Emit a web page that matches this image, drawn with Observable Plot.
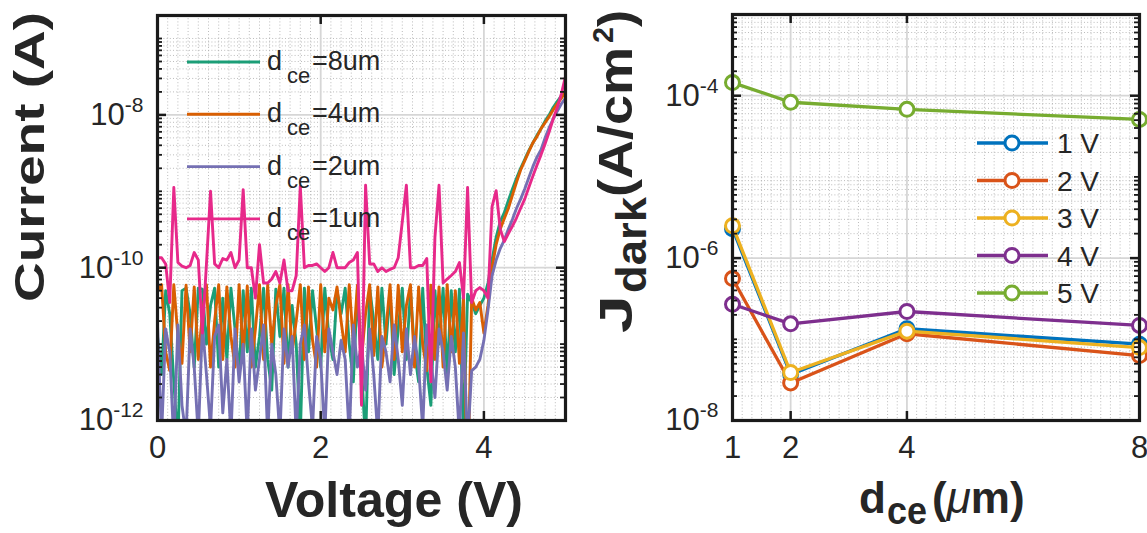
<!DOCTYPE html>
<html><head><meta charset="utf-8">
<script src="https://cdn.jsdelivr.net/npm/d3@7"></script>
<script src="https://cdn.jsdelivr.net/npm/@observablehq/plot@0.6"></script>
<style>
body{margin:0;background:#fff;}
#wrap{position:relative;width:1147px;height:533px;overflow:hidden;background:#fff;font-family:"Liberation Sans",Arial,Helvetica,sans-serif;}
#left,#right,#overlay{position:absolute;top:0;}
#left{left:0;width:575px;} #right{left:575px;width:572px;} #overlay{left:0;pointer-events:none;}
</style></head>
<body><div id="wrap"><div id="left"></div><div id="right"></div><svg id="overlay" width="1147" height="533"></svg></div>
<script>
const voltage = [0,0.05,0.1,0.15,0.2,0.25,0.3,0.35,0.4,0.45,0.5,0.55,0.6,0.65,0.7,0.75,0.8,0.85,0.9,0.95,1,1.05,1.1,1.15,1.2,1.25,1.3,1.35,1.4,1.45,1.5,1.55,1.6,1.65,1.7,1.75,1.8,1.85,1.9,1.95,2,2.05,2.1,2.15,2.2,2.25,2.3,2.35,2.4,2.45,2.5,2.55,2.6,2.65,2.7,2.75,2.8,2.85,2.9,2.95,3,3.05,3.1,3.15,3.2,3.25,3.3,3.35,3.4,3.45,3.5,3.55,3.6,3.65,3.7,3.75,3.8,3.85,3.9,3.95,4,4.05,4.1,4.15,4.2,4.25,4.3,4.35,4.4,4.45,4.5,4.55,4.6,4.65,4.7,4.75,4.8,4.85,4.9,4.95,5];
const current8um = [
1.26e-11,4.0e-12,5.0e-11,2.5e-11,3.2e-12,5.0e-13,5.0e-11,5.4e-11,2.5e-11,5.0e-12,
5.4e-11,5.25e-11,1.0e-11,3.2e-11,5.4e-11,5.0e-12,4.0e-11,6.3e-12,5.4e-11,1.58e-11,
4.0e-12,5.0e-11,7.9e-12,5.4e-11,5.0e-12,1.26e-11,5.4e-11,6.3e-12,2.5e-12,5.25e-11,
1.26e-11,5.4e-11,5.0e-12,3.2e-11,1.0e-11,6.3e-13,5.4e-11,7.9e-12,5.0e-11,1.58e-11,
5.0e-12,5.4e-11,1.26e-11,6.3e-12,5.0e-11,2.5e-11,5.4e-11,1.0e-11,3.2e-12,5.0e-11,
5.0e-12,5.0e-13,5.4e-11,2.0e-11,6.3e-12,5.4e-11,1.0e-11,5.0e-11,4.0e-12,1.58e-11,
5.4e-11,6.3e-12,5.0e-11,7.9e-12,3.2e-12,5.4e-11,5.0e-12,1.58e-12,5.0e-11,1.0e-11,
5.4e-11,4.0e-12,5.0e-11,7.9e-12,5.25e-11,6.3e-13,4.5e-11,3.5e-11,2.5e-11,3.2e-11,
4.0e-11,6.3e-11,1.26e-10,2.5e-10,4.0e-10,5.25e-10,7.6e-10,1.07e-9,1.48e-9,2.0e-9,
2.6e-9,3.4e-9,4.3e-9,5.4e-9,6.6e-9,8.3e-9,1.0e-8,1.26e-8,1.5e-8,1.78e-8,2.1e-8];
const current4um = [
5.0e-11,6.0e-11,7.9e-12,4.5e-12,6.0e-11,1.26e-11,5.6e-12,5.9e-11,7.9e-12,5.6e-11,
6.3e-12,2.5e-11,6.0e-11,5.0e-12,2.0e-11,6.0e-11,6.3e-12,5.6e-11,1.26e-11,5.0e-12,
6.0e-11,7.1e-12,5.75e-11,5.0e-12,1.58e-11,6.0e-11,6.3e-12,5.9e-11,1.0e-11,3.2e-11,
6.0e-11,5.6e-12,6.0e-11,7.9e-12,2.0e-11,6.0e-11,6.3e-12,5.6e-11,1.12e-11,5.0e-12,
6.0e-11,7.9e-12,4.0e-11,2.8e-11,5.6e-11,2.0e-11,7.9e-12,6.0e-11,1.0e-11,5.9e-11,
6.3e-12,2.5e-11,6.0e-11,7.1e-12,5.6e-11,5.0e-12,1.58e-11,6.0e-11,6.3e-12,5.9e-11,
7.9e-12,3.2e-11,6.0e-11,5.0e-12,5.6e-11,1.0e-11,4.5e-12,5.9e-11,6.3e-12,5.6e-11,
5.0e-12,6.0e-11,7.9e-12,5.0e-11,5.6e-12,4.0e-11,1.0e-13,4.0e-11,2.8e-11,3.5e-11,
1.4e-11,3.2e-11,1.0e-10,2.0e-10,3.2e-10,4.4e-10,6.0e-10,8.9e-10,1.32e-9,1.9e-9,
2.5e-9,3.3e-9,4.3e-9,5.2e-9,6.6e-9,7.9e-9,9.5e-9,1.17e-8,1.4e-8,1.66e-8,2.0e-8];
const current2um = [
1.78e-11,6.3e-13,1.58e-11,7.9e-12,5.0e-13,1.78e-11,1.58e-12,6.3e-13,1.58e-11,5.0e-12,
6.3e-13,1.78e-11,4.0e-12,7.9e-13,1.26e-11,1.78e-11,1.26e-12,6.3e-12,6.3e-13,1.58e-11,
3.2e-12,1.0e-11,6.3e-13,1.58e-11,2.5e-12,6.3e-12,1.78e-11,6.3e-13,1.0e-11,4.0e-12,
6.3e-13,1.58e-11,5.0e-12,1.26e-11,6.3e-13,1.0e-11,1.78e-11,3.2e-12,7.9e-13,1.26e-11,
6.3e-12,6.3e-13,1.58e-11,7.9e-12,4.0e-12,1.12e-11,6.3e-12,6.3e-13,1.78e-11,5.0e-12,
1.0e-11,2.5e-12,1.58e-11,4.0e-12,6.3e-13,1.26e-11,7.9e-12,3.2e-12,1.78e-11,6.3e-12,
1.58e-12,1.58e-11,4.0e-12,1.26e-11,5.0e-12,7.9e-13,1.78e-11,6.3e-12,2.0e-12,1.58e-11,
7.9e-12,2.5e-12,1.26e-11,5.0e-12,6.3e-13,1.4e-11,5.0e-13,4.5e-12,5.0e-12,6.3e-12,
1.12e-11,2.8e-11,7.9e-11,1.26e-10,1.78e-10,2.3e-10,3.2e-10,4.3e-10,6.0e-10,7.9e-10,
1.07e-9,1.5e-9,2.1e-9,2.8e-9,3.5e-9,5.0e-9,6.8e-9,8.9e-9,1.12e-8,1.4e-8,1.66e-8];
const current1um = [
1.35e-10,1.35e-10,1.12e-10,3.5e-11,1.12e-9,1.17e-10,1.05e-10,1.0e-10,1.07e-10,1.58e-10,
1.26e-10,1.4e-11,1.12e-10,1.0e-9,1.12e-10,1.0e-10,1.32e-10,1.26e-10,1.58e-10,1.0e-10,
1.26e-10,1.05e-9,1.0e-10,1.0e-10,4.0e-11,2.0e-10,6.3e-11,6.3e-11,7.1e-11,8.9e-11,
6.3e-11,1.26e-10,5.0e-11,5.0e-11,7.9e-11,1.17e-9,1.0e-10,1.07e-10,1.07e-10,1.12e-10,
1.0e-10,8.9e-11,1.0e-10,1.58e-10,1.0e-10,1.0e-10,1.0e-10,1.17e-10,1.26e-10,1.58e-10,
1.58e-12,1.2e-9,1.12e-10,1.12e-10,8.9e-11,1.0e-10,8.9e-11,9.5e-11,1.0e-10,1.35e-10,
4.0e-10,1.2e-9,1.0e-10,1.0e-10,1.07e-10,1.07e-10,1.32e-10,3.2e-12,2.5e-10,1.2e-9,
6.3e-11,7.1e-11,7.9e-11,8.9e-11,1.17e-10,4.0e-11,1.12e-9,3.5e-11,5.0e-11,5.5e-11,
5.0e-11,4.0e-11,6.3e-10,1.02e-9,3.2e-10,2.2e-10,2.8e-10,3.5e-10,4.5e-10,6.0e-10,
7.9e-10,1.12e-9,1.58e-9,2.2e-9,3.0e-9,4.2e-9,6.0e-9,8.9e-9,1.26e-8,1.9e-8,3.2e-8];
const ivSeries = ["8um","4um","2um","1um"];
const ivColors = ["#1b9e77","#d95f02","#7570b3","#e7298a"];
const xTicksIV = [0,2,4];
const yTicksIV = [1e-12,1e-10,1e-8];
const ivXDomain = [0,5];
const ivYDomain = [1e-12,2e-7];

const dce = [1,2,4,8];
const jdark1V = [2.3e-6,3.7e-8,1.35e-7,8.7e-8];
const jdark2V = [5.6e-7,2.9e-8,1.17e-7,6.3e-8];
const jdark3V = [2.5e-6,3.9e-8,1.26e-7,7.9e-8];
const jdark4V = [2.7e-7,1.55e-7,2.2e-7,1.48e-7];
const jdark5V = [1.45e-4,8.3e-5,6.8e-5,5.1e-5];
const biasLabels = ["1 V","2 V","3 V","4 V","5 V"];
const biasColors = ["#0072bd","#d95319","#edb120","#7e2f8e","#77ac30"];
const xTicksJ = [1,2,4,8];
const yTicksJ = [1e-8,1e-6,1e-4];
const jXDomain = [1,8];
const jYDomain = [1e-8,1e-3];

function logMinor(lo, hi, majors){
  const out=[];
  for(let e=Math.floor(Math.log10(lo)); e<=Math.ceil(Math.log10(hi)); e++)
    for(let m=1;m<=9;m++){const v=+(m+"e"+e); if(v>lo*1.0001 && v<hi*0.9999 && !majors.some(t=>Math.abs(t-v)/v<1e-6)) out.push(v);}
  return out;
}
function linMinor(lo, hi, step, majors){
  const out=[];
  for(let k=1; lo+k*step<hi-1e-9; k++){const v=lo+k*step; if(!majors.some(t=>Math.abs(t-v)<1e-9)) out.push(v);}
  return out;
}
const INK="#262626";
const EDGE="#1a1a1a";
const minorGrid={stroke:"#a0a0a0",strokeWidth:1,strokeDasharray:"1,2.2",strokeOpacity:0.7};
const majorGrid={stroke:"#d6d6d6",strokeWidth:1.8,strokeOpacity:1};
const supFmt = d => "10^" + Math.round(Math.log10(d));

function panel({width, height, ml, mr, mt, mb, xDomain, yDomain, xTicks, yTicks, xMinor, yMinor, dataMarks}){
  const pw=width-ml-mr, ph=height-mt-mb;
  const svg = Plot.plot({
    width, height, marginLeft:ml, marginRight:mr, marginTop:mt, marginBottom:mb,
    style:{background:"transparent", fontFamily:"'Liberation Sans',Arial,sans-serif", color:INK, overflow:"visible"},
    x:{domain:xDomain},
    y:{type:"log", domain:yDomain},
    marks:[
      Plot.gridX(xMinor, minorGrid),
      Plot.gridY(yMinor, minorGrid),
      Plot.gridX(xTicks.filter(t=>t>xDomain[0]&&t<xDomain[1]), majorGrid),
      Plot.gridY(yTicks.filter(t=>t>yDomain[0]&&t<yDomain[1]), majorGrid),
      ...dataMarks,
      Plot.tickY(yTicks,{y:d=>d, insetRight:pw-9, stroke:EDGE, strokeWidth:2.5}),
      Plot.tickY(yTicks,{y:d=>d, insetLeft:pw-9, stroke:EDGE, strokeWidth:2.5}),
      Plot.tickY(yMinor,{y:d=>d, insetRight:pw-5, stroke:EDGE, strokeWidth:1.8}),
      Plot.tickY(yMinor,{y:d=>d, insetLeft:pw-5, stroke:EDGE, strokeWidth:1.8}),
      Plot.tickX(xTicks,{x:d=>d, insetTop:ph-9, stroke:EDGE, strokeWidth:2.5}),
      Plot.tickX(xTicks,{x:d=>d, insetBottom:ph-9, stroke:EDGE, strokeWidth:2.5}),
      Plot.frame({stroke:EDGE, strokeWidth:3.2}),
      Plot.axisX(xTicks,{tickSize:0, tickPadding:15, fontSize:31, label:null, tickFormat:d=>String(d)}),
      Plot.axisY(yTicks,{tickSize:0, tickPadding:14, fontSize:31, label:null, tickFormat:supFmt})
    ]
  });
  d3.select(svg).selectAll('g[aria-label="y-axis tick label"] text').each(function(){
    const s=this.textContent; const parts=s.split("^"); if(parts.length<2) return;
    const t=d3.select(this); t.text(parts[0]);
    t.append("tspan").attr("dy","-0.62em").attr("font-size","21px").text(parts[1]);
  });
  return svg;
}

const ivCurrents=[current8um,current4um,current2um,current1um];
const ivTable = voltage.flatMap((v,i)=>ivSeries.map((s,k)=>({voltage:v, current:ivCurrents[k][i], series:s})));
const leftSvg = panel({
  width:575, height:533, ml:157, mr:10, mt:15, mb:113,
  xDomain:ivXDomain, yDomain:ivYDomain, xTicks:xTicksIV, yTicks:yTicksIV,
  xMinor:linMinor(0,5,0.125,xTicksIV), yMinor:logMinor(1e-12,2e-7,yTicksIV),
  dataMarks: ivSeries.map((s,k)=>Plot.line(ivTable.filter(d=>d.series===s),{x:"voltage",y:"current",stroke:ivColors[k],strokeWidth:2.9,clip:true,strokeLinejoin:"round"}))
});
document.getElementById("left").appendChild(leftSvg);

const jSeries=[jdark1V,jdark2V,jdark3V,jdark4V,jdark5V];
const jTable = dce.flatMap((d,i)=>biasLabels.map((b,k)=>({dce:d, jdark:jSeries[k][i], bias:b})));
const rightMarks=[];
biasLabels.forEach((b,k)=>{
  const rows=jTable.filter(d=>d.bias===b);
  rightMarks.push(Plot.line(rows,{x:"dce",y:"jdark",stroke:biasColors[k],strokeWidth:3.3}));
  rightMarks.push(Plot.dot(rows,{x:"dce",y:"jdark",r:7,fill:"white",stroke:biasColors[k],strokeWidth:3}));
});
const rightSvg = panel({
  width:572, height:533, ml:157, mr:8, mt:14, mb:113,
  xDomain:jXDomain, yDomain:jYDomain, xTicks:xTicksJ, yTicks:yTicksJ,
  xMinor:linMinor(1,8,1/6,xTicksJ), yMinor:logMinor(1e-8,1e-3,yTicksJ),
  dataMarks:rightMarks
});
document.getElementById("right").appendChild(rightSvg);

const ov=d3.select("#overlay").attr("font-family","'Liberation Sans',Arial,sans-serif").attr("fill",INK);
function rotText(x, y, str, size, len, weight){
  return ov.append("text").attr("transform",`translate(${x},${y}) rotate(-90)`)
    .attr("font-size",size).attr("font-weight",weight||"bold")
    .attr("textLength",len).attr("lengthAdjust","spacingAndGlyphs").text(str);
}
rotText(44, 302, "Current (A)", 42, 290);
ov.append("text").attr("x",265).attr("y",517).attr("font-size",50).attr("font-weight","bold")
  .attr("textLength",258).attr("lengthAdjust","spacingAndGlyphs").text("Voltage (V)");
rotText(632, 333, "J", 46, 38);
rotText(646, 293, "dark", 42, 96);
rotText(632, 197, "(A/cm", 48, 150);
rotText(613, 43, "2", 30, 16);
rotText(632, 27, ")", 48, 17);
ov.append("text").attr("x",859).attr("y",513).attr("font-size",44).attr("font-weight","bold").text("d");
ov.append("text").attr("x",887).attr("y",524).attr("font-size",38).attr("font-weight","bold")
  .attr("textLength",40).attr("lengthAdjust","spacingAndGlyphs").text("ce");
const mu=ov.append("text").attr("x",932).attr("y",513).attr("font-size",44).attr("font-weight","bold");
mu.append("tspan").text("(");
mu.append("tspan").attr("font-style","italic").attr("font-weight","normal").text("μ");
mu.append("tspan").text("m)");

ivSeries.forEach((s,k)=>{
  const y=62+k*52.3;
  ov.append("line").attr("x1",187).attr("x2",260).attr("y1",y).attr("y2",y).attr("stroke",ivColors[k]).attr("stroke-width",2.9);
  const t=ov.append("text").attr("font-size",27);
  t.append("tspan").attr("x",267).attr("y",y+8).text("d");
  t.append("tspan").attr("x",287).attr("y",y+21).attr("font-size",22).text("ce");
  t.append("tspan").attr("x",312).attr("y",y+8).text("="+s);
});
biasLabels.forEach((b,k)=>{
  const y=143+k*37.5;
  ov.append("line").attr("x1",977).attr("x2",1048).attr("y1",y).attr("y2",y).attr("stroke",biasColors[k]).attr("stroke-width",3.3);
  ov.append("circle").attr("cx",1012).attr("cy",y).attr("r",7).attr("fill","white").attr("stroke",biasColors[k]).attr("stroke-width",3);
  ov.append("text").attr("x",1057).attr("y",y+10).attr("font-size",28).text(b);
});
</script></body></html>
